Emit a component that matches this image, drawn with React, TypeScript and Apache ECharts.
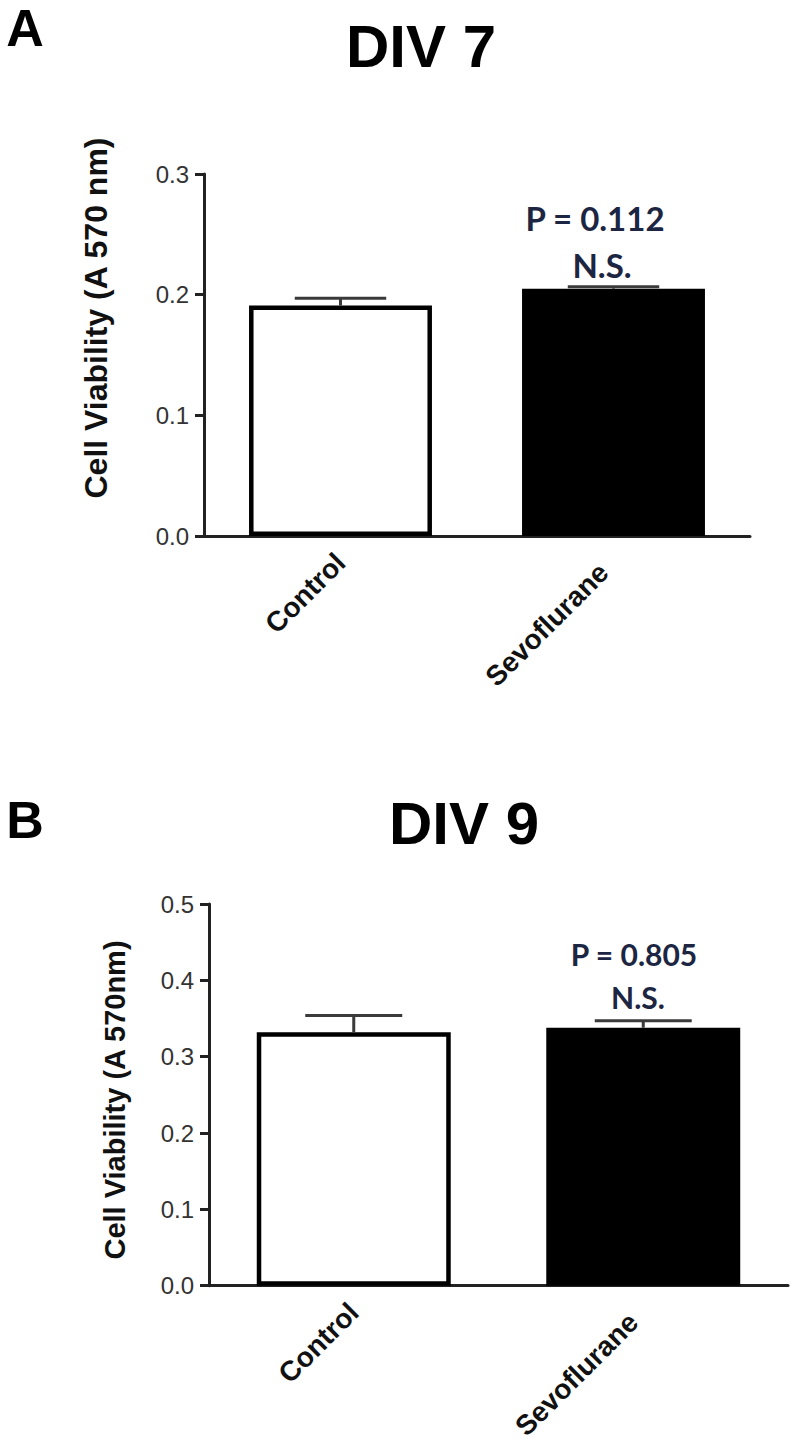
import React, { useEffect, useRef } from "react";
import * as echarts from "echarts";

const categories = ["Control", "Sevoflurane"];
const div7Means = [0.191, 0.205];
const div7Err = [0.006, 0.0015];
const div9Means = [0.332, 0.338];
const div9Err = [0.022, 0.009];
const div7Max = 0.3;
const div9Max = 0.5;
const tickStep = 0.1;
const barFills = ["#ffffff", "#000000"];
const pLabels = ["P = 0.112", "P = 0.805"];
const sigLabel = "N.S.";
const panelTitles = ["DIV 7", "DIV 9"];
const panelLetters = ["A", "B"];
const yTitles = ["Cell Viability (A 570 nm)", "Cell Viability (A 570nm)"];

const ARIAL = '"Liberation Sans", Arial, sans-serif';
const PFONT = 'Lato, "Open Sans", sans-serif';

function makeX(gridIndex: number) {
  return {
    type: "category",
    gridIndex,
    data: categories,
    axisLine: { lineStyle: { color: "#222", width: 3 } },
    axisTick: { alignWithLabel: true, length: 12, lineStyle: { color: "#222", width: 3 } },
    axisLabel: {
      rotate: 45,
      margin: 22,
      color: "#111",
      fontFamily: ARIAL,
      fontWeight: "bold",
      fontSize: 28,
      formatter: (v: string) => (v === "Sevoflurane" ? `{s|${v}}` : `{c|${v}}`),
      rich: {
        c: { fontFamily: ARIAL, fontWeight: "bold", fontSize: 28, color: "#111" },
        s: { fontFamily: ARIAL, fontWeight: "bold", fontSize: 28, color: "#111", padding: [0, 14, 0, 0] },
      },
    },
  };
}

function makeY(gridIndex: number, max: number) {
  return {
    type: "value",
    gridIndex,
    min: 0,
    max,
    interval: tickStep,
    splitLine: { show: false },
    axisLine: { show: true, lineStyle: { color: "#222", width: 3 } },
    axisTick: { show: true, length: 9, lineStyle: { color: "#222", width: 3 } },
    axisLabel: {
      margin: 15,
      color: "#333",
      fontFamily: ARIAL,
      fontSize: 24,
      formatter: (v: number) => v.toFixed(1),
    },
  };
}

function barSeries(idx: number, means: number[]) {
  return {
    type: "bar",
    xAxisIndex: idx,
    yAxisIndex: idx,
    barWidth: "67%",
    z: 2,
    data: means.map((m, i) => ({
      value: m,
      itemStyle: { color: barFills[i], borderColor: "#000", borderWidth: 4.5 },
    })),
  };
}

function errSeries(idx: number, means: number[], errs: number[]) {
  return {
    type: "custom",
    xAxisIndex: idx,
    yAxisIndex: idx,
    z: 3,
    encode: { x: 0, y: 1 },
    data: means.map((m, i) => [i, m, errs[i]]),
    renderItem: (params: any, api: any) => {
      const xi = api.value(0);
      const m = api.value(1);
      const e = api.value(2);
      const base = api.coord([xi, m]);
      const top = api.coord([xi, m + e]);
      const half = (api.size([1, 0])[0] * 0.67) / 4;
      const st = { stroke: "#3a3a3a", lineWidth: 3 };
      return {
        type: "group",
        children: [
          { type: "line", shape: { x1: base[0], y1: base[1], x2: top[0], y2: top[1] }, style: st },
          { type: "line", shape: { x1: top[0] - half, y1: top[1], x2: top[0] + half, y2: top[1] }, style: st },
        ],
      };
    },
  };
}

function txt(text: string, x: number, y: number, font: string, fill: string, rotation = 0, vAlign = "middle") {
  return {
    type: "text",
    x,
    y,
    rotation,
    z: 10,
    style: { text, font, fill, align: "center", verticalAlign: vAlign },
  };
}

export default function App() {
  const ref = useRef<HTMLDivElement>(null);
  useEffect(() => {
    document.body.style.margin = "0";
    if (!ref.current) return;
    const chart = echarts.init(ref.current, undefined, { renderer: "svg" });
    const option = {
      animation: false,
      backgroundColor: "#ffffff",
      grid: [
        { left: 204, right: 42, top: 174, bottom: 907 },
        { left: 209, right: 4, top: 904, bottom: 156 },
      ],
      xAxis: [makeX(0), makeX(1)],
      yAxis: [makeY(0, div7Max), makeY(1, div9Max)],
      series: [
        barSeries(0, div7Means),
        errSeries(0, div7Means, div7Err),
        barSeries(1, div9Means),
        errSeries(1, div9Means, div9Err),
      ],
      graphic: [
        txt(panelLetters[0], 25, 2, `bold 52px ${ARIAL}`, "#000", 0, "top"),
        txt(panelLetters[1], 25, 794, `bold 52px ${ARIAL}`, "#000", 0, "top"),
        txt(panelTitles[0], 421, 46, `bold 60px ${ARIAL}`, "#000"),
        txt(panelTitles[1], 464, 823, `bold 60px ${ARIAL}`, "#000"),
        txt(yTitles[0], 96, 318, `bold 32px ${ARIAL}`, "#111", Math.PI / 2),
        txt(yTitles[1], 115, 1100, `bold 29px ${ARIAL}`, "#111", Math.PI / 2),
        txt(pLabels[0], 595, 218, `bold 33px ${PFONT}`, "#1c2541"),
        txt(sigLabel, 602, 265, `bold 33px ${PFONT}`, "#1c2541"),
        txt(pLabels[1], 634, 954, `bold 30px ${PFONT}`, "#1c2541"),
        txt(sigLabel, 638, 997, `bold 30px ${PFONT}`, "#1c2541"),
      ],
    };
    chart.setOption(option as any);
    return () => chart.dispose();
  }, []);
  return <div ref={ref} style={{ width: 792, height: 1443 }} />;
}
